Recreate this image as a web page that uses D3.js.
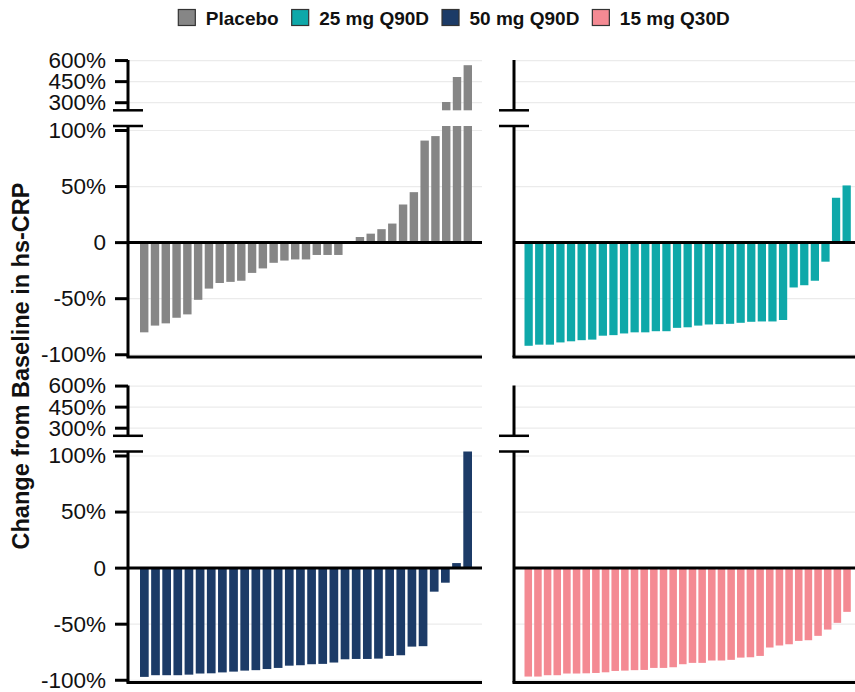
<!DOCTYPE html>
<html><head><meta charset="utf-8">
<script src="https://cdn.jsdelivr.net/npm/d3@7"></script>
<style>body{margin:0;background:#fff}svg{display:block}</style>
</head><body>
<svg id="c" width="855" height="692"></svg>
<script>
// ---- data ----
const seriesNames = ["Placebo", "25 mg Q90D", "50 mg Q90D", "15 mg Q30D"];
const placebo = [-80,-74,-72,-67,-64,-51,-41,-36,-35,-34,-27,-23,-18,-16,-15,-15,-11,-11,-11,0,5,8,12,17,34,45,91,95,305,483,567];
const dose25q90 = [-92,-91,-91,-89,-88,-87,-86.5,-83,-82.5,-81,-80,-80,-79,-79,-76,-75.5,-74,-73,-72.7,-72.4,-71.5,-70.6,-70.3,-70.3,-69,-40,-38,-34,-17,40,51];
const dose50q90 = [-97,-95.5,-95.5,-95.5,-95,-94,-93.8,-93,-92.3,-91.4,-91,-90,-89,-87,-86.6,-85.7,-85.4,-84.2,-81.3,-81,-81,-80.7,-78.3,-77.7,-70,-69.6,-21,-13,4.5,104];
const dose15q30 = [-96.7,-96.7,-95.5,-95.5,-94,-94,-93.8,-93.5,-92.9,-91.7,-91.4,-91,-90.8,-89,-89,-88.4,-85.7,-84.5,-84.5,-82.4,-82.4,-81.8,-79.8,-79.5,-78.3,-70.8,-69,-67.9,-64.9,-64.3,-60.4,-54.8,-48.8,-39];
const topTicks = [300, 450, 600];
const lowTicks = [-100, -50, 0, 50, 100];
const colors = ["#868686", "#0ea8a9", "#1c3b67", "#f48a93"];

// ---- layout ----
const svg = d3.select("#c");
const cols = [{axis:128, end:482, b0:140, b1:472}, {axis:514, end:861, b0:524.5, b1:850.8}];
const rows = [0, 325.5];
const topDom = [246, 604], lowDom = [-102, 104];
const panels = [
  {data: placebo, s: 0, c: 0, r: 0},
  {data: dose25q90, s: 1, c: 1, r: 0},
  {data: dose50q90, s: 2, c: 0, r: 1},
  {data: dose15q30, s: 3, c: 1, r: 1}
];
const fmt = v => v === 0 ? "0" : v + "%";

panels.forEach(p => {
  const col = cols[p.c], off = rows[p.r];
  const yTop = d3.scaleLinear().domain(topDom).range([110.3 + off, 60 + off]);
  const yLow = d3.scaleLinear().domain(lowDom).range([357 + off, 126 + off]);
  const x = d3.scaleBand().domain(d3.range(p.data.length)).range([col.b0, col.b1]).paddingInner(0.22).paddingOuter(0);
  const g = svg.append("g");
  // gridlines
  g.selectAll(".gt").data(topTicks).join("line")
    .attr("x1", col.axis).attr("x2", col.end)
    .attr("y1", d => yTop(d)).attr("y2", d => yTop(d))
    .attr("stroke", "#ebebeb").attr("stroke-width", 1.2);
  g.selectAll(".gl").data(lowTicks.filter(d => d !== 0)).join("line")
    .attr("x1", col.axis).attr("x2", col.end)
    .attr("y1", d => yLow(d)).attr("y2", d => yLow(d))
    .attr("stroke", "#ebebeb").attr("stroke-width", 1.2);
  // bars lower segment
  g.append("g").selectAll("rect").data(p.data).join("rect")
    .attr("x", (d, i) => x(i)).attr("width", x.bandwidth())
    .attr("y", d => yLow(Math.min(Math.max(d, 0), lowDom[1])))
    .attr("height", d => Math.abs(yLow(Math.min(Math.max(d, 0), lowDom[1])) - yLow(Math.max(Math.min(d, 0), lowDom[0]))))
    .attr("fill", colors[p.s]);
  // bars top segment
  g.append("g").selectAll("rect").data(p.data.map((d, i) => ({d, i})).filter(o => o.d > topDom[0])).join("rect")
    .attr("x", o => x(o.i)).attr("width", x.bandwidth())
    .attr("y", o => yTop(Math.min(o.d, topDom[1])))
    .attr("height", o => yTop(topDom[0]) - yTop(Math.min(o.d, topDom[1])))
    .attr("fill", colors[p.s]);
  // zero line
  g.append("line").attr("x1", col.axis).attr("x2", col.end)
    .attr("y1", yLow(0)).attr("y2", yLow(0)).attr("stroke", "#000").attr("stroke-width", 3);
  // bottom axis
  g.append("line").attr("x1", col.axis - 1.5).attr("x2", col.end)
    .attr("y1", yLow(lowDom[0])).attr("y2", yLow(lowDom[0])).attr("stroke", "#000").attr("stroke-width", 3);
  // vertical axis segments
  g.append("line").attr("x1", col.axis).attr("x2", col.axis)
    .attr("y1", yTop(topDom[1])).attr("y2", yTop(topDom[0])).attr("stroke", "#000").attr("stroke-width", 3);
  g.append("line").attr("x1", col.axis).attr("x2", col.axis)
    .attr("y1", yLow(lowDom[1])).attr("y2", yLow(lowDom[0])).attr("stroke", "#000").attr("stroke-width", 3);
  // break marks
  [yTop(topDom[0]), yLow(lowDom[1])].forEach(yy => {
    g.append("line").attr("x1", col.axis - 15).attr("x2", col.axis + 15)
      .attr("y1", yy).attr("y2", yy).attr("stroke", "#000").attr("stroke-width", 2.5);
  });
  if (p.c === 0) {
    const ax = g.append("g").attr("font-family", "Liberation Sans, Arial, sans-serif").attr("font-size", 22.5).attr("fill", "#111");
    const tk = (vals, sc) => {
      vals.forEach(v => {
        g.append("line").attr("x1", col.axis - 13).attr("x2", col.axis)
          .attr("y1", sc(v)).attr("y2", sc(v)).attr("stroke", "#000").attr("stroke-width", 3);
        ax.append("text").attr("x", 106).attr("y", sc(v)).attr("dy", "0.33em")
          .attr("text-anchor", "end").text(fmt(v));
      });
    };
    tk(topTicks, yTop);
    tk(lowTicks, yLow);
  }
});

// y title
svg.append("text")
  .attr("transform", "translate(28.5,366) rotate(-90)")
  .attr("text-anchor", "middle")
  .attr("font-family", "Liberation Sans, Arial, sans-serif")
  .attr("font-weight", "bold").attr("font-size", 23.5).attr("fill", "#111")
  .text("Change from Baseline in hs-CRP");

// legend
const lg = svg.append("g").attr("font-family", "Liberation Sans, Arial, sans-serif")
  .attr("font-weight", "bold").attr("font-size", 19).attr("fill", "#111");
let cx = 0;
seriesNames.forEach((n, i) => {
  const it = lg.append("g");
  it.append("rect").attr("x", 0).attr("y", 9.5).attr("width", 17).attr("height", 16)
    .attr("fill", colors[i]).attr("stroke", "#333").attr("stroke-width", 1.2);
  const t = it.append("text").attr("x", 27.5).attr("y", 24.5).text(n);
  const w = 27.5 + t.node().getComputedTextLength();
  it.attr("transform", `translate(${cx},0)`);
  cx += w + 13;
});
const total = cx - 13;
lg.attr("transform", `translate(${454 - total / 2},0)`);
</script>
</body></html>
